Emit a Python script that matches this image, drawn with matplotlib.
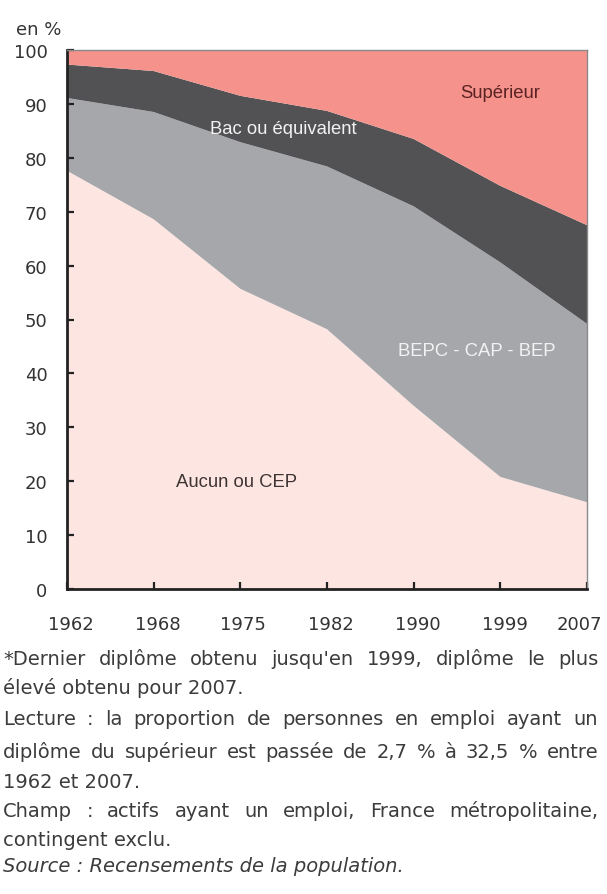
import matplotlib
matplotlib.use("Agg")
import matplotlib.pyplot as plt
import matplotlib.transforms as mtransforms
import numpy as np

# data (en %)
years = ["1962", "1968", "1975", "1982", "1990", "1999", "2007"]
aucun_cep = [77.6, 68.6, 55.7, 48.2, 34.0, 20.8, 16.1]
bepc_cap_bep = [13.5, 19.9, 27.2, 30.2, 37.0, 39.8, 33.1]
bac = [6.2, 7.6, 8.6, 10.3, 12.5, 14.2, 18.3]
superieur = [2.7, 3.9, 8.5, 11.3, 16.5, 25.2, 32.5]
yticks = list(range(0, 101, 10))

colors = ["#fde6e1", "#a6a7ab", "#525254", "#f4928b"]
labels = ["Aucun ou CEP", "BEPC - CAP - BEP", "Bac ou équivalent", "Supérieur"]

notes = [
    ("*Dernier diplôme obtenu jusqu'en 1999, diplôme le plus", True, 665),
    ("élevé obtenu pour 2007.", False, 694),
    ("Lecture : la proportion de personnes en emploi ayant un", True, 725),
    ("diplôme du supérieur est passée de 2,7 % à 32,5 % entre", True, 758),
    ("1962 et 2007.", False, 788),
    ("Champ : actifs ayant un emploi, France métropolitaine,", True, 817),
    ("contingent exclu.", False, 846),
    ("Source : Recensements de la population.", False, 872),
]

W, H = 607, 895
fig = plt.figure(figsize=(W / 100, H / 100), dpi=100)
ax = fig.add_axes([67 / W, 1 - 590 / H, 520 / W, 539 / H])

x = np.arange(len(years))
ax.stackplot(x, aucun_cep, bepc_cap_bep, bac, superieur,
             colors=colors, linewidth=0)

ax.set_xlim(0, len(years) - 1)
ax.set_ylim(0, 100)
ax.set_xticks(x)
ax.set_xticklabels(years)
ax.set_yticks(yticks)

ax.tick_params(axis="both", direction="in", length=5, width=1.6,
               color="#222222", labelcolor="#333333", labelsize=13,
               labelfontfamily="DejaVu Sans")
ax.tick_params(axis="y", pad=14)
ax.tick_params(axis="x", pad=19)

# year labels sit slightly right of their ticks, the last one pulled inside
shifts = [4, 4, 3, 4, 4, 5, -8]
for lab, dx in zip(ax.get_xticklabels(), shifts):
    lab.set_transform(lab.get_transform() +
                      mtransforms.ScaledTranslation(dx / 100, 0, fig.dpi_scale_trans))

for side in ["left", "bottom"]:
    ax.spines[side].set_linewidth(2)
    ax.spines[side].set_color("#222222")
for side in ["top", "right"]:
    ax.spines[side].set_linewidth(1)
    ax.spines[side].set_color("#8a8a8a")

lab_font = dict(ha="center", va="center", fontsize=13.3, family="Liberation Sans")
ax.text(5.0, 92.2, labels[3], color="#5a2222", **lab_font)
ax.text(2.5, 85.5, labels[2], color="#f2f2f2", **lab_font)
ax.text(4.73, 44.2, labels[1], color="#f2f2f2", **lab_font)
ax.text(1.96, 19.9, labels[0], color="#3d3333", **lab_font)

fig.text(16 / W, 1 - 30 / H, "en %", ha="left", va="center",
         fontsize=13, color="#333333", family="DejaVu Sans")

# footnotes, justified lines spread over the full width
renderer = fig.canvas.get_renderer()
x0, x1 = 3, 598
for line, justify, ybase in notes:
    style = "italic" if line.startswith("Source") else "normal"
    yf = 1 - ybase / H
    if not justify:
        fig.text(x0 / W, yf, line, ha="left", va="baseline", fontsize=14,
                 color="#3c3c3c", family="DejaVu Sans", style=style)
        continue
    words = line.split(" ")
    texts = [fig.text(0, yf, w, ha="left", va="baseline", fontsize=14,
                      color="#3c3c3c", family="DejaVu Sans", style=style)
             for w in words]
    widths = [t.get_window_extent(renderer).width for t in texts]
    gap = (x1 - x0 - sum(widths)) / (len(words) - 1)
    pos = x0
    for t, w in zip(texts, widths):
        t.set_x(pos / W)
        pos += w + gap

fig.savefig("out.png", dpi=100)
